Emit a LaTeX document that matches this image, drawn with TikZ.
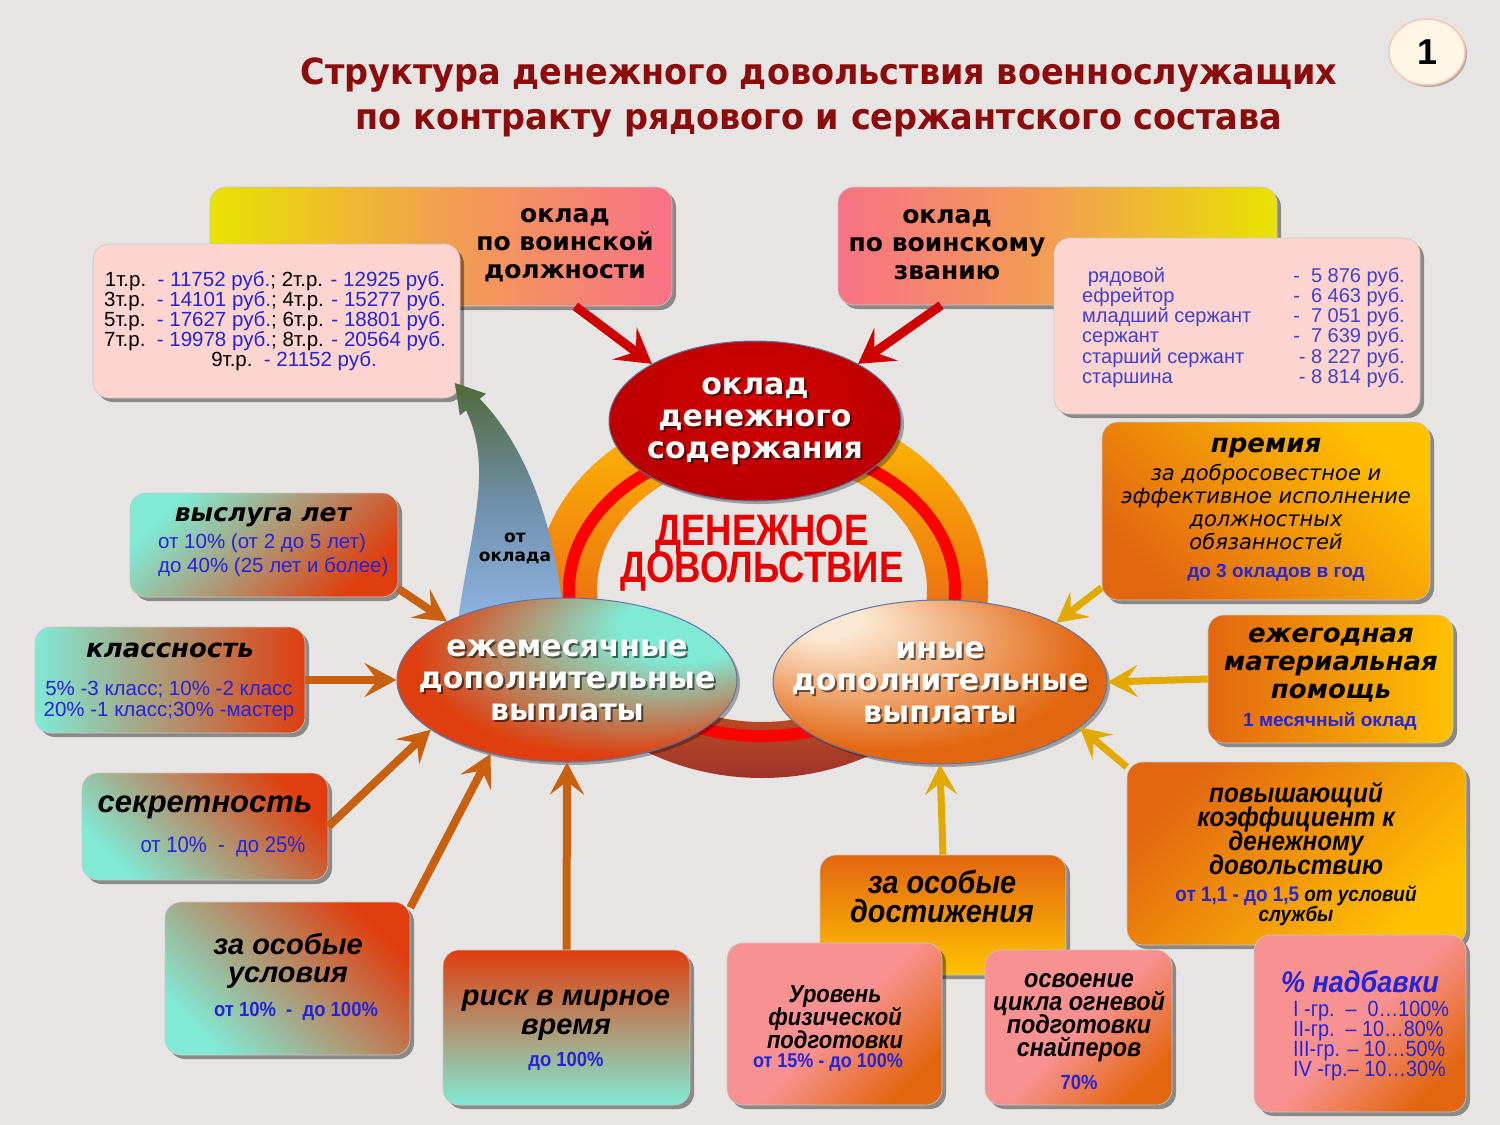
\documentclass[tikz,border=0pt]{standalone}
\usepackage{fontspec}
\setmainfont{Liberation Sans}
\newfontfamily\dvs{DejaVu Sans}
\newfontfamily\titlef[FakeStretch=0.93]{DejaVu Sans}
\newfontfamily\nar[FakeStretch=0.9]{Liberation Sans}
\newfontfamily\denf[FakeStretch=0.83]{Liberation Sans}
\usetikzlibrary{shapes.geometric,shadows,arrows.meta}
\newcommand{\setfs}[2]{\fontsize{#1}{#2}\selectfont\lineskiplimit=-100pt\lineskip=0pt\relax}

\definecolor{bgc}{RGB}{230,229,228}
\definecolor{ttlc}{RGB}{140,12,12}
\definecolor{tblue}{RGB}{36,36,216}
\definecolor{tblue2}{RGB}{64,64,204}
\definecolor{pinkbox}{RGB}{253,212,207}
\definecolor{tyel}{RGB}{232,226,0}
\definecolor{tpink}{RGB}{248,114,134}
\definecolor{tor}{RGB}{242,160,80}
\definecolor{teal1}{RGB}{128,234,212}
\definecolor{ored}{RGB}{224,62,14}
\definecolor{or1}{RGB}{226,102,16}
\definecolor{gold1}{RGB}{255,194,0}
\definecolor{pk1}{RGB}{248,146,146}
\definecolor{arrLc}{RGB}{200,96,16}
\definecolor{arrRc}{RGB}{226,170,0}
\definecolor{arrRed}{RGB}{206,0,0}
\definecolor{elb}{RGB}{96,116,160}
\definecolor{denred}{RGB}{232,0,0}
\definecolor{cream}{RGB}{255,246,230}
\definecolor{badgeb}{RGB}{246,200,180}
\definecolor{agreen}{RGB}{80,106,58}
\definecolor{ablue}{RGB}{143,180,228}
\definecolor{amid}{RGB}{112,143,170}
\definecolor{ringy}{RGB}{255,190,0}
\definecolor{ringo}{RGB}{238,120,16}
\definecolor{ringd}{RGB}{160,52,44}
\definecolor{pale}{RGB}{252,232,210}
\definecolor{odc1}{RGB}{210,0,0}
\definecolor{odc2}{RGB}{184,0,0}
\definecolor{odc3}{RGB}{160,0,0}

\pgfdeclareradialshading{odsh}{\pgfpoint{0bp}{10bp}}{color(0bp)=(odc1); color(30bp)=(odc2); color(50bp)=(odc3)}
\pgfdeclareradialshading{ezhsh}{\pgfpoint{22bp}{20bp}}{color(0bp)=(teal1); color(10bp)=(teal1); color(31bp)=(ored); color(50bp)=(ored)}
\pgfdeclareradialshading{inyesh}{\pgfpoint{-20bp}{22bp}}{color(0bp)=(pale); color(6bp)=(pale); color(30bp)=(or1); color(50bp)=(or1)}

\begin{document}
\begin{tikzpicture}[x=1pt, y=-1pt,
  every node/.append style={inner sep=1pt},
  box/.style={rectangle, rounded corners=16pt, inner sep=0pt, draw=black!22, line width=0.6pt,
    drop shadow={shadow xshift=4pt, shadow yshift=-4pt, opacity=0.4, fill=black}},
  el/.style={ellipse, inner sep=0pt, draw=elb, line width=1pt,
    drop shadow={shadow xshift=3pt, shadow yshift=-3pt, opacity=0.3, fill=black}},
  hdr/.style={font=\dvs\bfseries\setfs{25}{28}, align=center},
  eltxt/.style={font=\dvs\bfseries\setfs{30}{32}, align=center, text=white},
  elsh/.style={font=\dvs\bfseries\setfs{30}{32}, align=center, text=black, opacity=0.55},
  ttlA/.style={font=\dvs\bfseries\itshape\setfs{25}{28}, align=center},
  ttlB/.style={font=\bfseries\itshape\setfs{29}{28}, align=center},
  ttlC/.style={font=\nar\bfseries\itshape\setfs{26}{23}, align=center},
  btxt/.style={font=\setfs{20.5}{24}, text=tblue, align=center},
  bbold/.style={font=\nar\bfseries\setfs{20.5}{20}, text=tblue, align=center},
  arrL/.style={draw=arrLc, line width=8pt, -{Stealth[length=32pt, width=34pt, inset=13pt]}},
  arrR/.style={draw=arrRc, line width=7pt, -{Stealth[length=30pt, width=32pt, inset=12pt]}},
  arrRd/.style={draw=arrRed, line width=9pt, -{Stealth[length=34pt, width=40pt, inset=14pt]}}
]
\useasboundingbox (0,0) rectangle (1500,1125);
\fill[bgc] (0,0) rectangle (1500,1125);

% title
\node[font=\titlef\bfseries\setfs{36}{45}, text=ttlc, align=center] (ttl) at (819,98)
  {Структура денежного довольствия военнослужащих\\по контракту рядового и сержантского состава};

% badge
\node[ellipse, minimum width=76, minimum height=66, fill=cream, draw=badgeb, line width=1.5pt,
  drop shadow={shadow xshift=2pt, shadow yshift=-2pt, opacity=0.25, fill=black},
  font=\bfseries\setfs{36}{36}] (badge) at (1427,52) {1};

% ring
\coordinate (rc) at (762,590);
\shade[top color=ringy, bottom color=ringd, middle color=ringo, even odd rule]
  (rc) ellipse (226 and 188) (rc) ellipse (165 and 132);
\draw[red, line width=12pt] (rc) ellipse (193 and 146);

% top-left salary block
\node[box, minimum width=462, minimum height=119, left color=tyel, right color=tpink, middle color=tor] (okladdol) at (441,246.5) {};
\node[hdr] (okladdol-t) at (565,245) {оклад\\по воинской\\должности};
\node[box, fill=pinkbox, minimum width=367, minimum height=154] (tarif) at (276.5,321) {};
\node[font=\setfs{20.5}{20}, align=center] (tarif-t) at (275,321)
  {1т.р.\ \ {\color{tblue}- 11752 руб.}; 2т.р. {\color{tblue}- 12925 руб.}\\
   3т.р.\ \ {\color{tblue}- 14101 руб.}; 4т.р. {\color{tblue}- 15277 руб.}\\
   5т.р.\ \ {\color{tblue}- 17627 руб.}; 6т.р. {\color{tblue}- 18801 руб.}\\
   7т.р.\ \ {\color{tblue}- 19978 руб.}; 8т.р. {\color{tblue}- 20564 руб.}\\
   \hspace*{38pt}9т.р.\ \ {\color{tblue}- 21152 руб.}};

% top-right salary block
\node[box, minimum width=439, minimum height=118, left color=tpink, right color=tyel, middle color=tor] (okladzv) at (1057.5,246) {};
\node[hdr] (okladzv-t) at (947,245) {оклад\\по воинскому\\званию};
\node[box, fill=pinkbox, minimum width=366, minimum height=176] (zvan) at (1237,326) {};
\node[font=\setfs{20}{20.2}, text=tblue2, align=left, anchor=west] (zvan-l) at (1081,327.5)
  {\ рядовой\\ефрейтор\\младший сержант\\сержант\\старший сержант\\старшина};
\node[font=\setfs{20}{20.2}, text=tblue2, align=right, anchor=east] (zvan-r) at (1406,327.5)
  {-\ \ 5 876 руб.\\-\ \ 6 463 руб.\\-\ \ 7 051 руб.\\-\ \ 7 639 руб.\\- 8 227 руб.\\- 8 814 руб.};

% curved arrow "от оклада"
\shade[top color=agreen, bottom color=ablue, middle color=amid]
  (458,622) .. controls (468,540) and (495,470) .. (466,410.4) -- (459.8,415.5) -- (455,383)
  -- (486,393.7) -- (479.8,398.8) .. controls (520,440) and (552,510) .. (563,610) -- cycle;
\node[font=\dvs\bfseries\setfs{17}{19}, align=center] (otokl) at (515,548) {от\\оклада};

% central text
\node[font=\denf\bfseries\setfs{44}{37}, text=denred, align=center] (den) at (762,553) {ДЕНЕЖНОЕ\\ДОВОЛЬСТВИЕ};

% ellipses
\node[el, minimum width=292, minimum height=160, shading=odsh] (ods) at (755,421) {};
\node[elsh] (ods-s) at (757,423) {оклад\\денежного\\содержания};
\node[eltxt] (ods-t) at (755,421) {оклад\\денежного\\содержания};

\node[el, minimum width=340, minimum height=164, shading=ezhsh] (ezh) at (567,680) {};
\node[elsh] (ezh-s) at (569,682) {ежемесячные\\дополнительные\\выплаты};
\node[eltxt] (ezh-t) at (567,680) {ежемесячные\\дополнительные\\выплаты};

\node[el, minimum width=334, minimum height=164, shading=inyesh] (inye) at (940,682) {};
\node[elsh] (inye-s) at (942,684) {иные\\дополнительные\\выплаты};
\node[eltxt] (inye-t) at (940,682) {иные\\дополнительные\\выплаты};

% left boxes
\node[box, minimum width=268, minimum height=104, top color=teal1, bottom color=ored, shading angle=45] (vysl) at (264,545) {};
\node[ttlA] (vysl-t) at (263,517) {выслуга лет};
\node[btxt, align=left, anchor=west] (vysl-b) at (157,555) {от 10\% (от 2 до 5 лет)\\до 40\% (25 лет и более)};

\node[box, minimum width=270, minimum height=106, left color=teal1, right color=ored] (klass) at (170,680) {};
\node[ttlA, font=\dvs\bfseries\itshape\setfs{26}{28}] (klass-t) at (170,650) {классность};
\node[btxt, font=\setfs{20.5}{21}] (klass-b) at (169,700.5) {5\% -3 класс; 10\% -2 класс\\20\% -1 класс;30\% -мастер};

\node[box, minimum width=246, minimum height=107, top color=ored, bottom color=teal1, shading angle=-45] (sekr) at (205,826.5) {};
\node[ttlB, font=\bfseries\itshape\setfs{31}{30}] (sekr-t) at (205,807) {секретность};
\node[btxt, font=\nar\setfs{22.5}{22}] (sekr-b) at (223,847) {от 10\%\ \ -\ \ до 25\%};

\node[box, minimum width=245, minimum height=153, top color=ored, bottom color=teal1, shading angle=-45] (usl) at (287.5,978.5) {};
\node[ttlB] (usl-t) at (288,961) {за особые\\условия};
\node[bbold] (usl-b) at (296,1011) {от 10\%\ \ -\ \ до 100\%};

\node[box, minimum width=247, minimum height=155, top color=ored, bottom color=teal1] (risk) at (566.5,1027.5) {};
\node[ttlB, font=\bfseries\itshape\setfs{29}{29}] (risk-t) at (566,1015.5) {риск в мирное\\время};
\node[bbold] (risk-b) at (566,1061) {до 100\%};

% right boxes
\node[box, minimum width=328, minimum height=178, top color=gold1, bottom color=or1, shading angle=-45] (prem) at (1266,511) {};
\node[ttlA, font=\dvs\bfseries\itshape\setfs{26}{28}] (prem-t) at (1266,448) {премия};
\node[font=\dvs\itshape\setfs{21}{22.7}, align=center] (prem-d) at (1266,507) {за добросовестное и\\эффективное исполнение\\должностных\\обязанностей};
\node[bbold, font=\bfseries\setfs{19}{20}] (prem-b) at (1276,573) {до 3 окладов в год};

\node[box, minimum width=245, minimum height=128, left color=or1, right color=gold1] (pomosh) at (1330.5,679) {};
\node[ttlA, font=\dvs\bfseries\itshape\setfs{26}{28}] (pomosh-t) at (1331,665) {ежегодная\\материальная\\помощь};
\node[bbold, font=\bfseries\setfs{19}{20}] (pomosh-b) at (1330,721) {1 месячный оклад};

\node[box, minimum width=339, minimum height=183, top color=or1, bottom color=gold1, shading angle=45] (koef) at (1296.5,853.5) {};
\node[ttlC, font=\nar\bfseries\itshape\setfs{27}{24}] (koef-t) at (1296,829) {повышающий\\коэффициент к\\денежному\\довольствию};
\node[font=\nar\bfseries\setfs{21}{20}, align=center] (koef-b) at (1296,906)
  {{\color{tblue}от 1,1 - до 1,5} \itshape от условий\\\itshape службы};

\node[box, minimum width=246, minimum height=120, top color=or1, bottom color=gold1] (dost) at (943,915) {};
\node[ttlC, font=\nar\bfseries\itshape\setfs{32}{29}] (dost-t) at (942,896.5) {за особые\\достижения};

% bottom pink boxes
\node[box, minimum width=215, minimum height=162, top color=pk1, bottom color=or1, middle color=pk1, shading angle=45] (fiz) at (834.5,1024) {};
\node[ttlC, font=\nar\bfseries\itshape\setfs{24.5}{23}] (fiz-t) at (835,1017) {Уровень\\физической\\подготовки};
\node[bbold, font=\nar\bfseries\setfs{20}{20}] (fiz-b) at (828,1062) {от 15\% - до 100\%};

\node[box, minimum width=187, minimum height=155, top color=pk1, bottom color=or1, middle color=pk1, shading angle=45] (snip) at (1078.5,1027.5) {};
\node[ttlC] (snip-t) at (1079,1018) {освоение\\цикла огневой\\подготовки\\снайперов};
\node[bbold] (snip-b) at (1079,1082) {70\%};

\node[box, minimum width=212, minimum height=177, top color=pk1, bottom color=or1, middle color=pk1, shading angle=45] (nadb) at (1360,1023.5) {};
\node[font=\nar\bfseries\itshape\setfs{30}{30}, text=tblue] (nadb-t) at (1360,982) {\% надбавки};
\node[font=\nar\setfs{22}{20}, text=tblue, align=left, anchor=west] (nadb-b) at (1292,1041)
  {I -гр.\ \ –\ \ 0…100\%\\II-гр.\ \ – 10…80\%\\III-гр. – 10…50\%\\IV -гр.– 10…30\%};

% connectors
\draw[arrRd] (okladdol.-24) -- (ods.151);
\draw[arrRd] (okladzv.207) -- (ods.29);

\draw[arrL] (vysl.-18) -- (ezh.154);
\draw[arrL] (klass.east) -- (ezh.west);
\draw[arrL] (sekr.east) -- (ezh.200);
\draw[arrL] (usl.30) -- (ezh.224);
\draw[arrL] (risk.north) -- (ezh.south);

\draw[arrR] (prem.205) -- (inye.27);
\draw[arrR] (pomosh.west) -- (inye.east);
\draw[arrR] (koef.153) -- (inye.-18);
\draw[arrR] (dost.north) -- (inye.south);
\end{tikzpicture}
\end{document}
